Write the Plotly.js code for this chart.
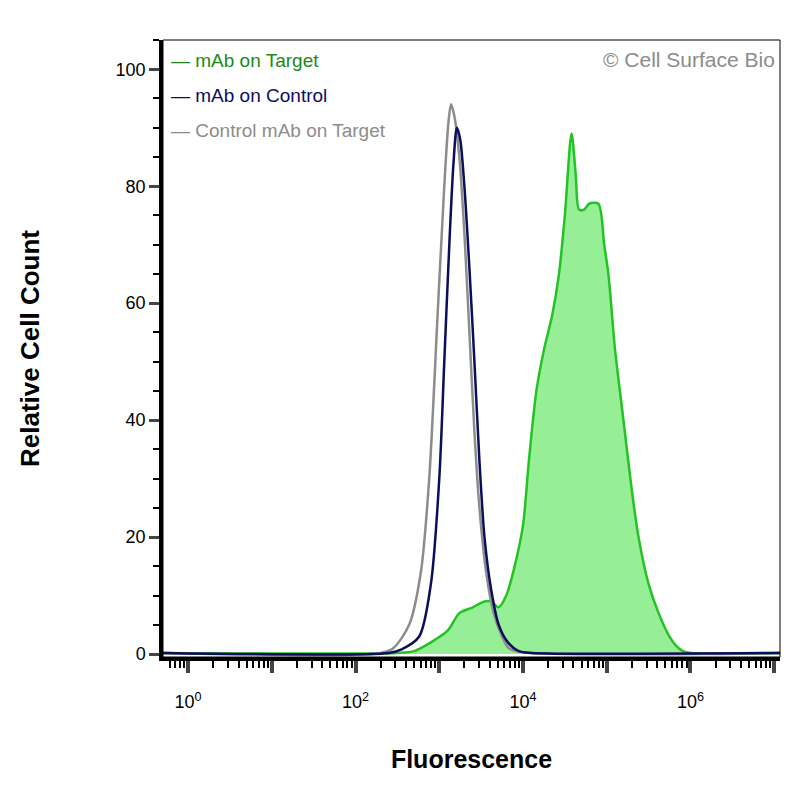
<!DOCTYPE html><html><head><script src="https://cdn.plot.ly/plotly-3.0.1.min.js"></script></head><body style="margin:0"><div id="g" style="width:800px;height:800px"></div><script>
const greenLog=[-0.3,2.5,2.7,2.9,3.1,3.24,3.4,3.54,3.62,3.71,3.8,3.9,4.0,4.07,4.16,4.25,4.35,4.43,4.5,4.58,4.63,4.67,4.73,4.79,4.9,4.97,5.02,5.1,5.2,5.3,5.38,5.5,5.62,5.75,5.86,5.95,7.1];
const greenY=[0.2,0.2,0.5,2,4,7,8,9,9,8,10,15,22,33,45,52,58,65,75,89,82,76,76,77,77,70,65,52,40,28,20,12,7,3,1,0.3,0.2];
const navyLog=[-0.3,2.4,2.55,2.76,2.9,3.0,3.06,3.12,3.17,3.21,3.25,3.3,3.36,3.42,3.48,3.54,3.62,3.71,3.82,3.95,4.1,7.1];
const navyY=[0.2,0.2,0.8,3,12,30,50,70,84,90,88,80,66,50,33,20,11,5,2,0.5,0.2,0.2];
const grayLog=[-0.3,2.3,2.45,2.64,2.78,2.88,2.98,3.06,3.11,3.14,3.18,3.24,3.3,3.36,3.42,3.48,3.56,3.65,3.75,3.83,4.0,7.1];
const grayY=[0.2,0.2,1,5,14,30,58,80,91,94,92,85,72,55,38,25,14,7,3,1,0.3,0.2];
const decades=[1,10,100,1e3,1e4,1e5,1e6,1e7];
const decadeLabels=['10<sup>0</sup>','','10<sup>2</sup>','','10<sup>4</sup>','','10<sup>6</sup>',''];
const p=a=>a.map(v=>Math.pow(10,v));
const data=[
{x:p(greenLog),y:greenY,mode:'lines',fill:'tozeroy',fillcolor:'rgba(144,238,144,0.95)',line:{color:'#22c322',width:2.5,shape:'spline',smoothing:0.8}},
{x:p(grayLog),y:grayY,mode:'lines',line:{color:'#8c8c8c',width:2.5,shape:'spline',smoothing:0.8}},
{x:p(navyLog),y:navyY,mode:'lines',line:{color:'#0d0d5e',width:2.5,shape:'spline',smoothing:0.8}}];
const f={family:'Liberation Sans, Arial',size:18,color:'#000'};
const layout={showlegend:false,margin:{l:163,r:20,t:40,b:143},plot_bgcolor:'#fff',paper_bgcolor:'#fff',font:f,
xaxis:{type:'log',range:[-0.3,7.07],tickvals:decades,ticktext:decadeLabels,ticks:'outside',ticklen:12,tickwidth:3.5,showgrid:false,zeroline:false,showline:true,linewidth:3.5,linecolor:'#000',ticklabelstandoff:14,
 minor:{dtick:'D1',ticks:'outside',ticklen:7,tickwidth:1.5,tickcolor:'#000',showgrid:false},
 title:{text:'<b>Fluorescence</b>',font:{family:'Liberation Sans, Arial',size:25},standoff:40}},
yaxis:{range:[-0.5,105],tickvals:[0,20,40,60,80,100],ticks:'outside',ticklen:10,tickwidth:3,showgrid:false,zeroline:false,showline:true,linewidth:3.5,linecolor:'#000',
 minor:{dtick:5,ticks:'outside',ticklen:6,tickwidth:1.5,tickcolor:'#000'},
 title:{text:'<b>Relative Cell Count</b>',font:{family:'Liberation Sans, Arial',size:26},standoff:70}},
shapes:[{type:'rect',xref:'paper',yref:'paper',x0:0,x1:1,y0:0,y1:1,line:{color:'#000',width:1}}],
annotations:[
{xref:'paper',yref:'paper',x:0.01,y:0.967,xanchor:'left',yanchor:'middle',showarrow:false,text:'— mAb on Target',font:{family:'Liberation Sans, Arial',size:19,color:'#1a8a1a'}},
{xref:'paper',yref:'paper',x:0.01,y:0.91,xanchor:'left',yanchor:'middle',showarrow:false,text:'— mAb on Control',font:{family:'Liberation Sans, Arial',size:19,color:'#0d0d5e'}},
{xref:'paper',yref:'paper',x:0.01,y:0.854,xanchor:'left',yanchor:'middle',showarrow:false,text:'— Control mAb on Target',font:{family:'Liberation Sans, Arial',size:19,color:'#8c8c8c'}},
{xref:'paper',yref:'paper',x:0.995,y:0.968,xanchor:'right',yanchor:'middle',showarrow:false,text:'© Cell Surface Bio',font:{family:'Liberation Sans, Arial',size:21,color:'#8c8c8c'}}]};
Plotly.newPlot('g',data,layout,{displayModeBar:false});
</script></body></html>
